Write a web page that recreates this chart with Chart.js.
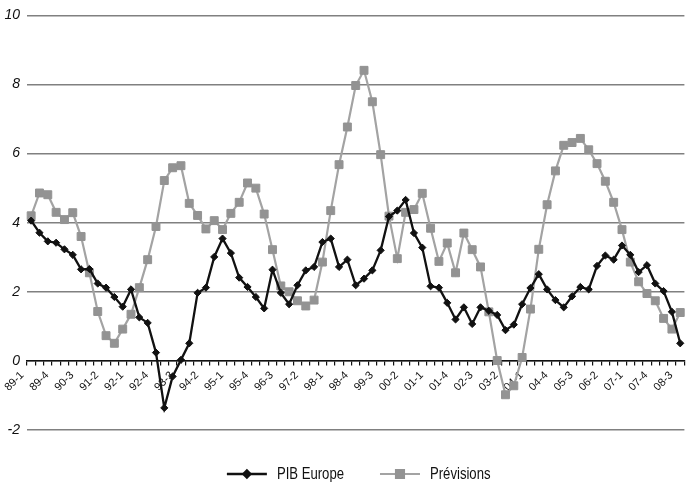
<!DOCTYPE html>
<html><head><meta charset="utf-8">
<script src="https://cdn.jsdelivr.net/npm/chart.js@4/dist/chart.umd.min.js"></script>
<style>html,body{margin:0;padding:0;background:#fff;}canvas{display:block;}</style>
</head><body>
<canvas id="c" width="691" height="487"></canvas>
<script>
const categories = [
"89-1","89-2","89-3","89-4","90-1","90-2","90-3","90-4","91-1","91-2","91-3","91-4",
"92-1","92-2","92-3","92-4","93-1","93-2","93-3","93-4","94-1","94-2","94-3","94-4",
"95-1","95-2","95-3","95-4","96-1","96-2","96-3","96-4","97-1","97-2","97-3","97-4",
"98-1","98-2","98-3","98-4","99-1","99-2","99-3","99-4","00-1","00-2","00-3","00-4",
"01-1","01-2","01-3","01-4","02-1","02-2","02-3","02-4","03-1","03-2","03-3","03-4",
"04-1","04-2","04-3","04-4","05-1","05-2","05-3","05-4","06-1","06-2","06-3","06-4",
"07-1","07-2","07-3","07-4","08-1","08-2","08-3"];

const pibEurope = [
4.06,3.71,3.46,3.42,3.23,3.07,2.65,2.66,2.24,2.12,1.85,1.57,
2.07,1.26,1.10,0.24,-1.36,-0.45,0.03,0.51,1.97,2.12,3.01,3.54,
3.12,2.41,2.14,1.85,1.52,2.64,1.97,1.64,2.19,2.62,2.72,3.44,
3.54,2.72,2.93,2.19,2.38,2.62,3.20,4.18,4.35,4.66,3.70,3.28,
2.16,2.12,1.68,1.20,1.55,1.07,1.55,1.45,1.33,0.89,1.05,1.64,
2.11,2.51,2.07,1.76,1.55,1.87,2.14,2.07,2.75,3.05,2.93,3.34,
3.07,2.57,2.77,2.24,2.02,1.42,0.51];

const previsions = [
4.20,4.86,4.81,4.30,4.09,4.29,3.60,2.55,1.43,0.73,0.51,0.92,
1.35,2.12,2.93,3.89,5.22,5.59,5.65,4.56,4.21,3.82,4.06,3.80,
4.27,4.59,5.15,5.00,4.25,3.22,2.17,2.00,1.74,1.59,1.76,2.86,
4.35,5.68,6.77,7.97,8.41,7.50,5.97,4.19,2.96,4.30,4.38,4.85,
3.84,2.88,3.41,2.55,3.70,3.22,2.72,1.42,0.01,-0.98,-0.72,0.10,
1.50,3.23,4.52,5.50,6.24,6.32,6.44,6.11,5.71,5.20,4.59,3.80,
2.86,2.29,1.95,1.74,1.23,0.92,1.40];

const yTicks = [-2,0,2,4,6,8,10];
const seriesNames = ["PIB Europe","Prévisions"];

const FONT = "'Liberation Sans',Arial,sans-serif";
const SQUEEZE = 0.82;

const legendPlugin = {
  id: 'refLegend',
  afterDraw(chart) {
    const ctx = chart.ctx;
    const ca = chart.chartArea;
    ctx.save();
    ctx.font = "16px " + FONT;
    const items = chart.data.datasets.map(ds => ({ds, w: ctx.measureText(ds.label).width * SQUEEZE}));
    const lineW = 40, gapText = 10, gapItem = 36;
    let total = 0;
    items.forEach((it, i) => { total += lineW + gapText + it.w + (i ? gapItem : 0); });
    let x = (ca.left + ca.right) / 2 - total / 2 + 3;
    const y = 474;
    items.forEach((it, i) => {
      if (i) x += gapItem;
      const ds = it.ds;
      ctx.strokeStyle = ds.borderColor; ctx.lineWidth = ds.borderWidth;
      ctx.beginPath(); ctx.moveTo(x, y); ctx.lineTo(x + lineW, y); ctx.stroke();
      ctx.fillStyle = ds.pointBackgroundColor; ctx.strokeStyle = ds.pointBorderColor;
      Chart.helpers.drawPoint(ctx, {pointStyle: ds.pointStyle, radius: ds.pointRadius, borderWidth: 1, rotation: 0}, x + lineW / 2, y);
      ctx.save();
      ctx.fillStyle = '#111';
      ctx.textAlign = 'left'; ctx.textBaseline = 'middle';
      ctx.translate(x + lineW + gapText, y + 1);
      ctx.scale(SQUEEZE, 1);
      ctx.fillText(ds.label, 0, 0);
      ctx.restore();
      x += lineW + gapText + it.w;
    });
    ctx.restore();
  }
};

new Chart(document.getElementById('c'), {
  type: 'line',
  data: {
    labels: categories,
    datasets: [
      {label: seriesNames[0], data: pibEurope, borderColor: '#111', borderWidth: 2.3,
       pointStyle: 'rectRot', pointRadius: 3.6, pointBackgroundColor: '#111', pointBorderColor: '#111', pointBorderWidth: 1,
       tension: 0},
      {label: seriesNames[1], data: previsions, borderColor: '#a3a3a3', borderWidth: 2.2,
       pointStyle: 'rect', pointRadius: 5.6, pointBackgroundColor: '#939393', pointBorderColor: '#939393', pointBorderWidth: 1,
       tension: 0}
    ]
  },
  options: {
    responsive: false,
    devicePixelRatio: 1,
    animation: false,
    layout: {padding: {top: 14, bottom: 57, left: 0, right: 1}},
    plugins: {legend: {display: false}, tooltip: {enabled: false}},
    scales: {
      y: {
        min: -2, max: 10,
        afterBuildTicks: s => { s.ticks = yTicks.map(v => ({value: v})); },
        afterFit: s => { s.width = 27; },
        border: {display: false},
        grid: {color: '#808080', lineWidth: 1.5, drawTicks: false},
        ticks: {padding: 7, color: '#111', font: {family: FONT, size: 14, style: 'italic'}}
      },
      x: {
        position: {y: 0},
        offset: true,
        afterFit: s => { s.paddingRight = 0; s.paddingLeft = 0; },
        border: {display: true, color: '#111', width: 1.5},
        grid: {offset: true, drawOnChartArea: false, drawTicks: true, tickLength: 4, color: '#111', lineWidth: 1.2},
        ticks: {
          autoSkip: false, maxRotation: 45, minRotation: 45, padding: 4, labelOffset: -9,
          color: '#111', font: {family: FONT, size: 11},
          callback: (v, i) => (i % 3 === 0 ? categories[i] : '')
        }
      }
    }
  },
  plugins: [legendPlugin]
});
</script>
</body></html>
